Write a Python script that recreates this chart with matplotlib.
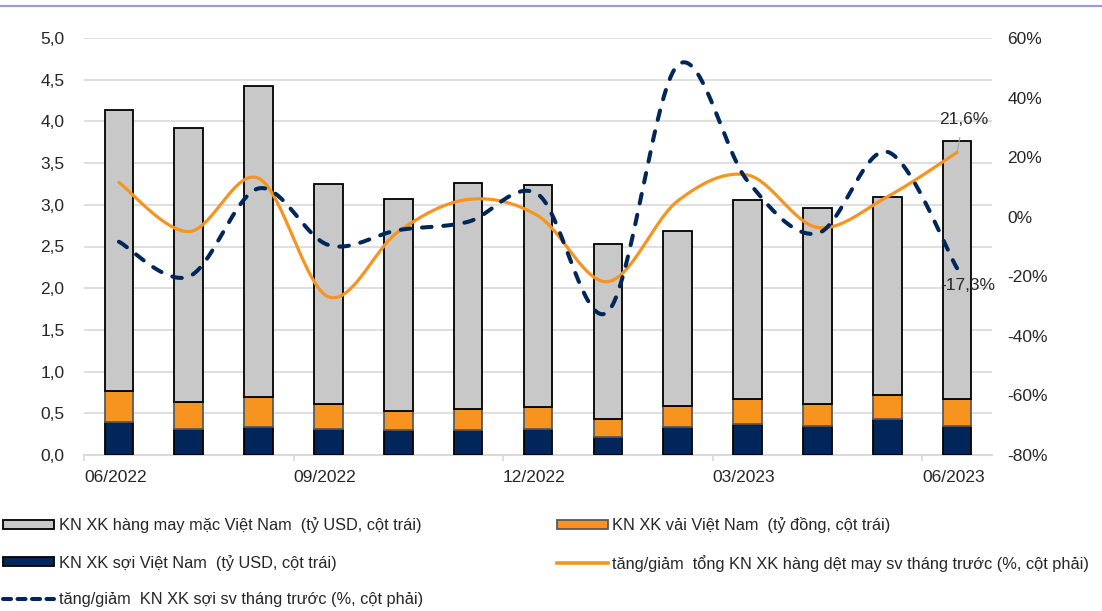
import numpy as np
import matplotlib
matplotlib.use("Agg")
import matplotlib.pyplot as plt
from matplotlib.lines import Line2D
from matplotlib.patches import Patch
from matplotlib.ticker import FuncFormatter, FixedLocator

plt.rcParams['font.family'] = ['Liberation Sans', 'DejaVu Sans']

# ---- data ----
months = ['06/2022', '07/2022', '08/2022', '09/2022', '10/2022', '11/2022', '12/2022',
          '01/2023', '02/2023', '03/2023', '04/2023', '05/2023', '06/2023']
yarn = [0.39, 0.31, 0.34, 0.31, 0.30, 0.30, 0.31, 0.215, 0.335, 0.37, 0.35, 0.43, 0.35]
fabric = [0.38, 0.33, 0.35, 0.30, 0.23, 0.255, 0.27, 0.215, 0.255, 0.305, 0.26, 0.285, 0.32]
garment = [3.37, 3.28, 3.73, 2.64, 2.54, 2.705, 2.66, 2.10, 2.10, 2.385, 2.35, 2.375, 3.09]
total_growth = [11.5, -5.0, 12.9, -26.9, -5.0, 5.8, 0.3, -21.8, 5.3, 14.0, -3.6, 6.7, 21.6]
yarn_growth = [-8.4, -20.1, 9.5, -9.5, -4.5, -1.7, 7.5, -31.9, 50.9, 12.0, -5.6, 21.8, -17.3]
xtick_labels = ['06/2022', '09/2022', '12/2022', '03/2023', '06/2023']
left_ticks = [0.0, 0.5, 1.0, 1.5, 2.0, 2.5, 3.0, 3.5, 4.0, 4.5, 5.0]
right_ticks = [-80, -60, -40, -20, 0, 20, 40, 60]
labels = ['KN XK hàng may mặc Việt Nam  (tỷ USD, cột trái)',
          'KN XK sợi Việt Nam  (tỷ USD, cột trái)',
          'tăng/giảm  KN XK sợi sv tháng trước (%, cột phải)',
          'KN XK vải Việt Nam  (tỷ đồng, cột trái)',
          'tăng/giảm  tổng KN XK hàng dệt may sv tháng trước (%, cột phải)']

C_GRAY = '#C8C8C8'
C_ORANGE = '#F7941F'
C_NAVY = '#00265A'
C_GRID = '#D9D9D9'
C_TEXT = '#262626'


def smooth(x, y, n=40):
    """Excel-like smoothed line: cubic Bezier segments with Catmull-Rom control points."""
    x = np.asarray(x, float)
    y = np.asarray(y, float)
    P = np.column_stack([x, y])
    out = []
    m = len(P)
    for i in range(m - 1):
        p0 = P[i - 1] if i > 0 else P[i]
        p1 = P[i]
        p2 = P[i + 1]
        p3 = P[i + 2] if i + 2 < m else P[i + 1]
        c1 = p1 + (p2 - p0) / 6.0
        c2 = p2 - (p3 - p1) / 6.0
        t = np.linspace(0, 1, n, endpoint=(i == m - 2))[:, None]
        seg = ((1 - t) ** 3) * p1 + 3 * ((1 - t) ** 2) * t * c1 + 3 * (1 - t) * t ** 2 * c2 + t ** 3 * p2
        out.append(seg)
    out = np.vstack(out)
    return out[:, 0], out[:, 1]


fig = plt.figure(figsize=(11.02, 6.11), dpi=100)
ax = fig.add_axes([84 / 1102, 1 - 455 / 611, (992 - 84) / 1102, (455 - 38) / 611])
ax2 = ax.twinx()

x = np.arange(len(months))
w = 0.41
yarn_a = np.array(yarn)
fabric_a = np.array(fabric)
garment_a = np.array(garment)

ax.bar(x, yarn_a, w, color=C_NAVY, edgecolor='black', linewidth=1.3, zorder=3)
ax.bar(x, fabric_a, w, bottom=yarn_a, color=C_ORANGE, edgecolor='#595959', linewidth=1.3, zorder=3)
ax.bar(x, garment_a, w, bottom=yarn_a + fabric_a, color=C_GRAY, edgecolor='black', linewidth=1.3, zorder=3)

ax.set_xlim(-0.5, len(months) - 0.5)
ax.set_ylim(0, 5)
ax.yaxis.set_major_locator(FixedLocator(left_ticks))
ax.yaxis.set_major_formatter(FuncFormatter(lambda v, p: f'{v:.1f}'.replace('.', ',')))
ax.grid(axis='y', color=C_GRID, linewidth=1.2, zorder=0)
ax.set_axisbelow(True)

tick_pos = [-0.5, 2.5, 5.5, 8.5, 11.5]
ax.set_xticks(tick_pos)
ax.set_xticklabels(xtick_labels, ha='left')
ax.tick_params(axis='x', length=4, color=C_GRID, width=1.2, pad=7, labelsize=12.5, colors=C_TEXT)
ax.tick_params(axis='y', length=0, pad=14, labelsize=12.5, colors=C_TEXT)
for lab in ax.get_xticklabels():
    lab.set_color(C_TEXT)

for s in ['top', 'left', 'right']:
    ax.spines[s].set_visible(False)
    ax2.spines[s].set_visible(False)
ax2.spines['bottom'].set_visible(False)
ax.spines['bottom'].set_color(C_GRID)
ax.spines['bottom'].set_linewidth(1.5)

# lines on the right axis
sx, sy = smooth(x, total_growth)
ax2.plot(sx, sy, color=C_ORANGE, linewidth=2.3, solid_capstyle='round', zorder=4)
dx, dy = smooth(x, yarn_growth)
ax2.plot(dx, dy, color=C_NAVY, linewidth=2.9, linestyle=(0, (2.4, 2.9)),
         dash_capstyle='round', zorder=5)
ax2.set_ylim(-80, 60)
ax2.yaxis.set_major_locator(FixedLocator(right_ticks))
ax2.yaxis.set_major_formatter(FuncFormatter(lambda v, p: f'{int(v)}%'))
ax2.tick_params(axis='y', length=0, pad=11, labelsize=12.5, colors=C_TEXT)
ax2.set_zorder(ax.get_zorder() + 1)
ax2.patch.set_visible(False)

# data labels on last point
def pct(v):
    return f'{v:.1f}%'.replace('.', ',')

ax2.annotate(pct(total_growth[-1]), xy=(x[-1], total_growth[-1]), xytext=(4.5, 24),
             textcoords='offset points', ha='center', va='center', fontsize=12.5, color=C_TEXT,
             arrowprops=dict(arrowstyle='-', color='#A6A6A6', linewidth=0.8, shrinkA=6, shrinkB=0),
             zorder=6)
ax2.annotate(pct(yarn_growth[-1]), xy=(x[-1], yarn_growth[-1]), xytext=(8, -12.5),
             textcoords='offset points', ha='center', va='center', fontsize=12.5, color=C_TEXT,
             zorder=6)

# top decorative rule
fig.add_artist(Line2D([0, 1], [1 - 6 / 611, 1 - 6 / 611], transform=fig.transFigure,
                      color='#9B9BD2', linewidth=1.6))

# legend
handles = [Patch(facecolor=C_GRAY, edgecolor='black', linewidth=1.3),
           Patch(facecolor=C_NAVY, edgecolor='black', linewidth=1.3),
           Line2D([], [], color=C_NAVY, linewidth=2.9, linestyle=(0, (2.0, 1.6)), dash_capstyle='round'),
           Patch(facecolor=C_ORANGE, edgecolor='#595959', linewidth=1.3),
           Line2D([], [], color=C_ORANGE, linewidth=2.6)]
leg = fig.legend(handles, labels, ncol=2, loc='upper left', bbox_to_anchor=(0.0, 1 - 514 / 611),
                 frameon=False, fontsize=11.8, handlelength=3.1, handleheight=0.5,
                 handletextpad=0.3, columnspacing=8.15, labelspacing=1.3, borderaxespad=0,
                 borderpad=0.2)
for t in leg.get_texts():
    t.set_color(C_TEXT)

fig.savefig('out.png', dpi=100)
